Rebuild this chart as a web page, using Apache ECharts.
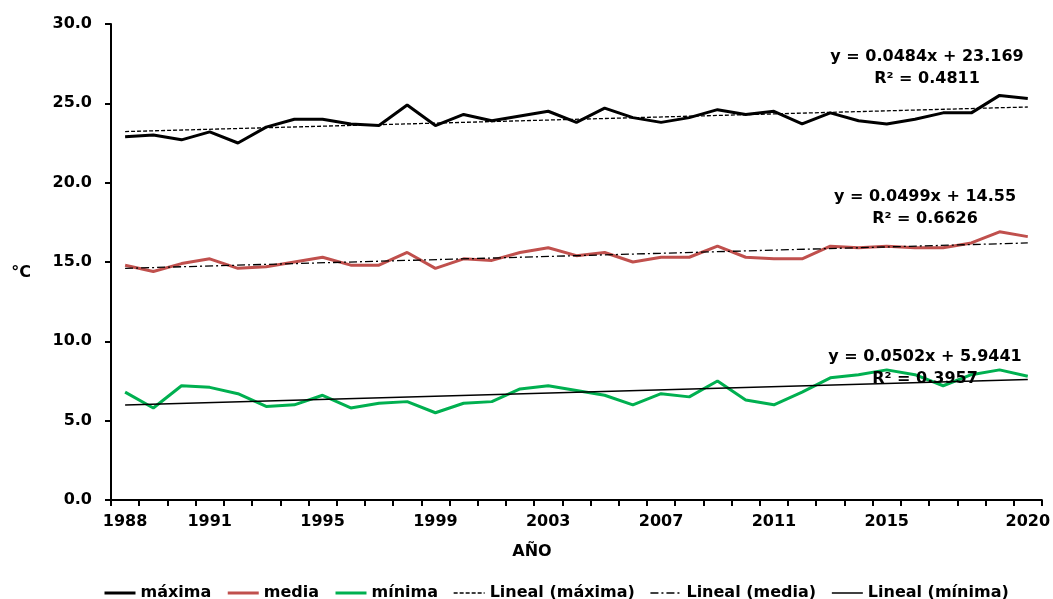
<!DOCTYPE html>
<html>
<head>
<meta charset="utf-8">
<script src="https://cdn.jsdelivr.net/npm/echarts@6/dist/echarts.min.js"></script>
<style>
html,body{margin:0;padding:0;background:#fff;}
#c{width:1053px;height:599px;}
</style>
</head>
<body>
<div id="c"></div>
<script>
const years = ['1988','1989','1990','1991','1992','1993','1994','1995','1996','1997','1998','1999','2000','2001','2002','2003','2004','2005','2006','2007','2008','2009','2010','2011','2012','2013','2014','2015','2016','2017','2018','2019','2020'];
const shownYears = ['1988','1991','1995','1999','2003','2007','2011','2015','2020'];
const maxima = [22.9,23.0,22.7,23.2,22.5,23.5,24.0,24.0,23.7,23.6,24.9,23.6,24.3,23.9,24.2,24.5,23.8,24.7,24.1,23.8,24.1,24.6,24.3,24.5,23.7,24.4,23.9,23.7,24.0,24.4,24.4,25.5,25.3];
const media = [14.8,14.4,14.9,15.2,14.6,14.7,15.0,15.3,14.8,14.8,15.6,14.6,15.2,15.1,15.6,15.9,15.4,15.6,15.0,15.3,15.3,16.0,15.3,15.2,15.2,16.0,15.9,16.0,15.9,15.9,16.2,16.9,16.6];
const minima = [6.8,5.8,7.2,7.1,6.7,5.9,6.0,6.6,5.8,6.1,6.2,5.5,6.1,6.2,7.0,7.2,6.9,6.6,6.0,6.7,6.5,7.5,6.3,6.0,6.8,7.7,7.9,8.2,7.9,7.2,7.9,8.2,7.8];
// trend line end values (first year, last year)
const trendMax = [23.22, 24.77];
const trendMed = [14.60, 16.20];
const trendMin = [5.99, 7.60];
const eqTexts = ['y = 0.0484x + 23.169','y = 0.0499x + 14.55','y = 0.0502x + 5.9441'];
const r2Texts = ['R² = 0.4811','R² = 0.6626','R² = 0.3957'];
const seriesNames = ['máxima','media','mínima','Lineal (máxima)','Lineal (media)','Lineal (mínima)'];
const yTitle = '°C';
const xTitle = 'AÑO';

const FONT = 'DejaVu Sans';
const chart = echarts.init(document.getElementById('c'));

function trendData(t){
  return [[years[0], t[0]], [years[years.length-1], t[1]]];
}

const eqPos = [[927,57,79],[925,197,219],[925,357,379]];
const graphics = [];
eqTexts.forEach((t,i)=>{
  graphics.push({type:'text', z:100, style:{text:t, x:eqPos[i][0], y:eqPos[i][1], align:'center', verticalAlign:'middle', font:'bold 16px "DejaVu Sans"', fill:'#000'}});
  graphics.push({type:'text', z:100, style:{text:r2Texts[i], x:eqPos[i][0], y:eqPos[i][2], align:'center', verticalAlign:'middle', font:'bold 16px "DejaVu Sans"', fill:'#000'}});
});
graphics.push({type:'text', style:{text:yTitle, x:21, y:273, align:'center', verticalAlign:'middle', font:'bold 16px "DejaVu Sans"', fill:'#000'}});
graphics.push({type:'text', style:{text:xTitle, x:532, y:552, align:'center', verticalAlign:'middle', font:'bold 16px "DejaVu Sans"', fill:'#000'}});

const legendWidths = [3,3,3,1.3,1.3,1.5];

const option = {
  animation: false,
  backgroundColor: '#fff',
  textStyle: {fontFamily: FONT},
  grid: {left:111, right:8, top:24, bottom:99},
  legend: {
    data: seriesNames.map((n,i)=>({name:n, lineStyle:{width:legendWidths[i]}})),
    left: 103, top: 585, padding: 0,
    itemWidth: 31, itemHeight: 14, itemGap: 15,
    itemStyle: {opacity: 0},
    textStyle: {fontFamily: FONT, fontSize:16, fontWeight:'bold', color:'#000'}
  },
  xAxis: {
    type:'category', data: years, boundaryGap: true,
    axisLine: {lineStyle:{color:'#000', width:2}},
    axisTick: {show:true, interval:0, length:6, lineStyle:{color:'#000', width:2}},
    axisLabel: {interval:(i,v)=>shownYears.includes(v), color:'#000', fontSize:16, fontWeight:'bold', fontFamily:FONT, margin:14},
    splitLine: {show:false}
  },
  yAxis: {
    type:'value', min:0, max:30, interval:5,
    axisLine: {show:true, lineStyle:{color:'#000', width:2}},
    axisTick: {show:true, length:6, lineStyle:{color:'#000', width:2}},
    axisLabel: {formatter:v=>v.toFixed(1), color:'#000', fontSize:16, fontWeight:'bold', fontFamily:FONT, margin:19},
    splitLine: {show:false}
  },
  graphic: graphics,
  series: [
    {name:seriesNames[0], type:'line', data:maxima, symbol:'none', lineStyle:{color:'#000', width:3}, itemStyle:{color:'#000'}},
    {name:seriesNames[1], type:'line', data:media, symbol:'none', lineStyle:{color:'#C0504D', width:3}, itemStyle:{color:'#C0504D'}},
    {name:seriesNames[2], type:'line', data:minima, symbol:'none', lineStyle:{color:'#00B050', width:3}, itemStyle:{color:'#00B050'}},
    {name:seriesNames[3], type:'line', data:trendData(trendMax), symbol:'none', lineStyle:{color:'#000', width:1.3, type:[4,2]}, itemStyle:{color:'#000'}},
    {name:seriesNames[4], type:'line', data:trendData(trendMed), symbol:'none', lineStyle:{color:'#000', width:1.3, type:[8,3,2,3]}, itemStyle:{color:'#000'}},
    {name:seriesNames[5], type:'line', data:trendData(trendMin), symbol:'none', lineStyle:{color:'#000', width:1.5}, itemStyle:{color:'#000'}}
  ]
};
chart.setOption(option);
</script>
</body>
</html>
